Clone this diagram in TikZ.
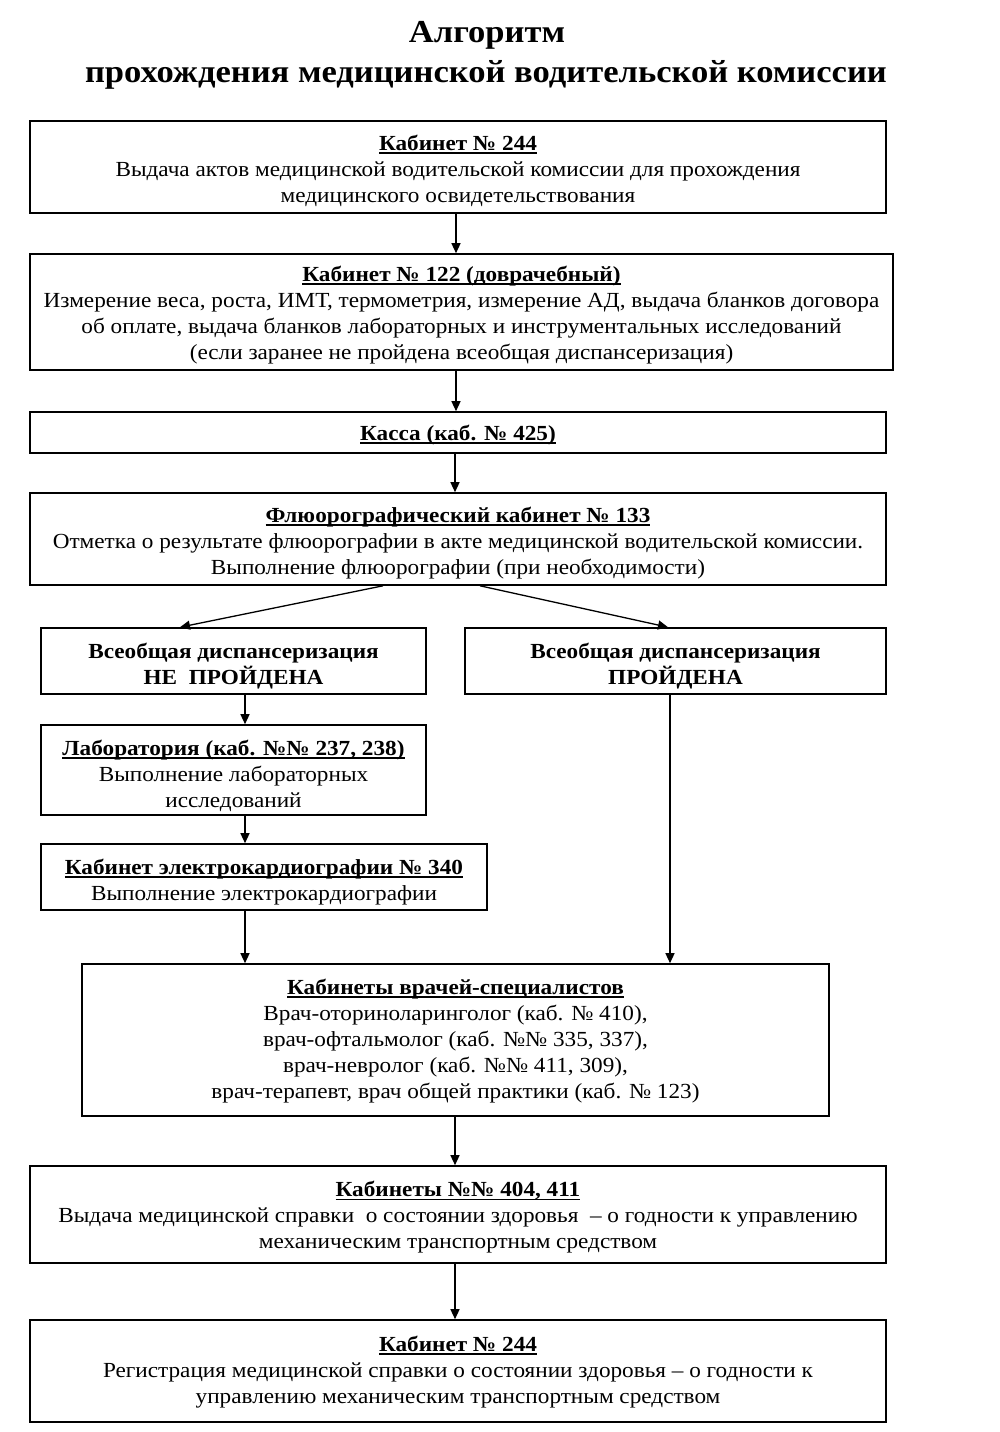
\documentclass[tikz,border=0pt]{standalone}
\usepackage{fontspec}
\setmainfont{Liberation Serif}[FakeStretch=1.08]
\usetikzlibrary{arrows.meta}
\newcommand\headul[2][23pt]{\rule{0pt}{#1}\setbox0\hbox{\bfseries #2}\rlap{\rule[-3.5pt]{\wd0}{1.6pt}}\box0}
\newcommand\firstlift[1]{\rule{0pt}{#1}}
\begin{document}
\begin{tikzpicture}[x=1pt,y=-1pt,
  box/.style={draw, line width=1.6pt, inner sep=0pt, align=center,
    font=\fontsize{21.5}{26}\selectfont},
  boldbox/.style={box, font=\bfseries\fontsize{21.5}{26}\selectfont},
  titlef/.style={font=\bfseries\fontsize{32}{40}\selectfont, inner sep=0pt},
  arr/.style={line width=1.3pt, -{Triangle[length=10pt,width=9pt]}}]
\useasboundingbox (0,0) rectangle (1000,1432);
\node[titlef] (t1) at (487,35) {Алгоритм};
\node[titlef] (t2) at (486,75) {прохождения медицинской водительской комиссии};

\node[box, minimum width=856pt, minimum height=92pt] (b1) at (458,167)
  {\headul{Кабинет № 244}\\ Выдача актов медицинской водительской комиссии для прохождения\\ медицинского освидетельствования};
\node[box, minimum width=863pt, minimum height=116pt] (b2) at (461.5,312)
  {\headul[21pt]{Кабинет № 122 (доврачебный)}\\ Измерение веса, роста, ИМТ, термометрия, измерение АД, выдача бланков договора\\ об оплате, выдача бланков лабораторных и инструментальных исследований\\ (если заранее не пройдена всеобщая диспансеризация)};
\node[box, minimum width=856pt, minimum height=41pt] (b3) at (458,432.5)
  {\headul[20pt]{Касса (каб. № 425)}};
\node[box, minimum width=856pt, minimum height=92pt] (b4) at (458,539)
  {\headul{Флюорографический кабинет № 133}\\ Отметка о результате флюорографии в акте медицинской водительской комиссии.\\ Выполнение флюорографии (при необходимости)};
\node[boldbox, minimum width=385pt, minimum height=66pt] (b5) at (233.5,661)
  {\firstlift{25pt}Всеобщая диспансеризация\\ НЕ\ \ ПРОЙДЕНА};
\node[boldbox, minimum width=421pt, minimum height=66pt] (b6) at (675.5,661)
  {\firstlift{25pt}Всеобщая диспансеризация\\ ПРОЙДЕНА};
\node[box, minimum width=385pt, minimum height=90pt] (b7) at (233.5,770)
  {\headul[27pt]{Лаборатория (каб. №№ 237, 238)}\\ Выполнение лабораторных\\ исследований};
\node[box, minimum width=446pt, minimum height=66pt] (b8) at (264,877)
  {\headul[25pt]{Кабинет электрокардиографии № 340}\\ Выполнение электрокардиографии};
\node[box, minimum width=747pt, minimum height=152pt] (b9) at (455.5,1040)
  {\headul[17pt]{Кабинеты врачей-специалистов}\\ Врач-оториноларинголог (каб. № 410),\\ врач-офтальмолог (каб. №№ 335, 337),\\ врач-невролог (каб. №№ 411, 309),\\ врач-терапевт, врач общей практики (каб. № 123)};
\node[box, minimum width=856pt, minimum height=97pt] (b10) at (458,1214.5)
  {\headul[21pt]{Кабинеты №№ 404, 411}\\ Выдача медицинской справки\ \ о состоянии здоровья\ \ – о годности к управлению\\ механическим транспортным средством};
\node[box, minimum width=856pt, minimum height=102pt] (b11) at (458,1371)
  {\headul[17pt]{Кабинет № 244}\\ Регистрация медицинской справки о состоянии здоровья – о годности к\\ управлению механическим транспортным средством};

\draw[arr] ([xshift=-2pt]b1.south) -- ([xshift=-2pt]b1.south |- b2.north);
\draw[arr] ([xshift=-5.5pt]b2.south) -- ([xshift=-5.5pt]b2.south |- b3.north);
\draw[arr] ([xshift=-3pt]b3.south) -- ([xshift=-3pt]b3.south |- b4.north);
\draw[arr] ([xshift=-75pt]b4.south) -- ([xshift=-53.5pt]b5.north);
\draw[arr] ([xshift=22pt]b4.south) -- ([xshift=-7.5pt]b6.north);
\draw[arr] ([xshift=11.5pt]b5.south) -- ([xshift=11.5pt]b5.south |- b7.north);
\draw[arr] ([xshift=11.5pt]b7.south) -- ([xshift=11.5pt]b7.south |- b8.north);
\draw[arr] ([xshift=-19pt]b8.south) -- ([xshift=-19pt]b8.south |- b9.north);
\draw[arr] ([xshift=-5.5pt]b6.south) -- ([xshift=-5.5pt]b6.south |- b9.north);
\draw[arr] ([xshift=-0.5pt]b9.south) -- ([xshift=-0.5pt]b9.south |- b10.north);
\draw[arr] ([xshift=-3pt]b10.south) -- ([xshift=-3pt]b10.south |- b11.north);
\end{tikzpicture}
\end{document}
